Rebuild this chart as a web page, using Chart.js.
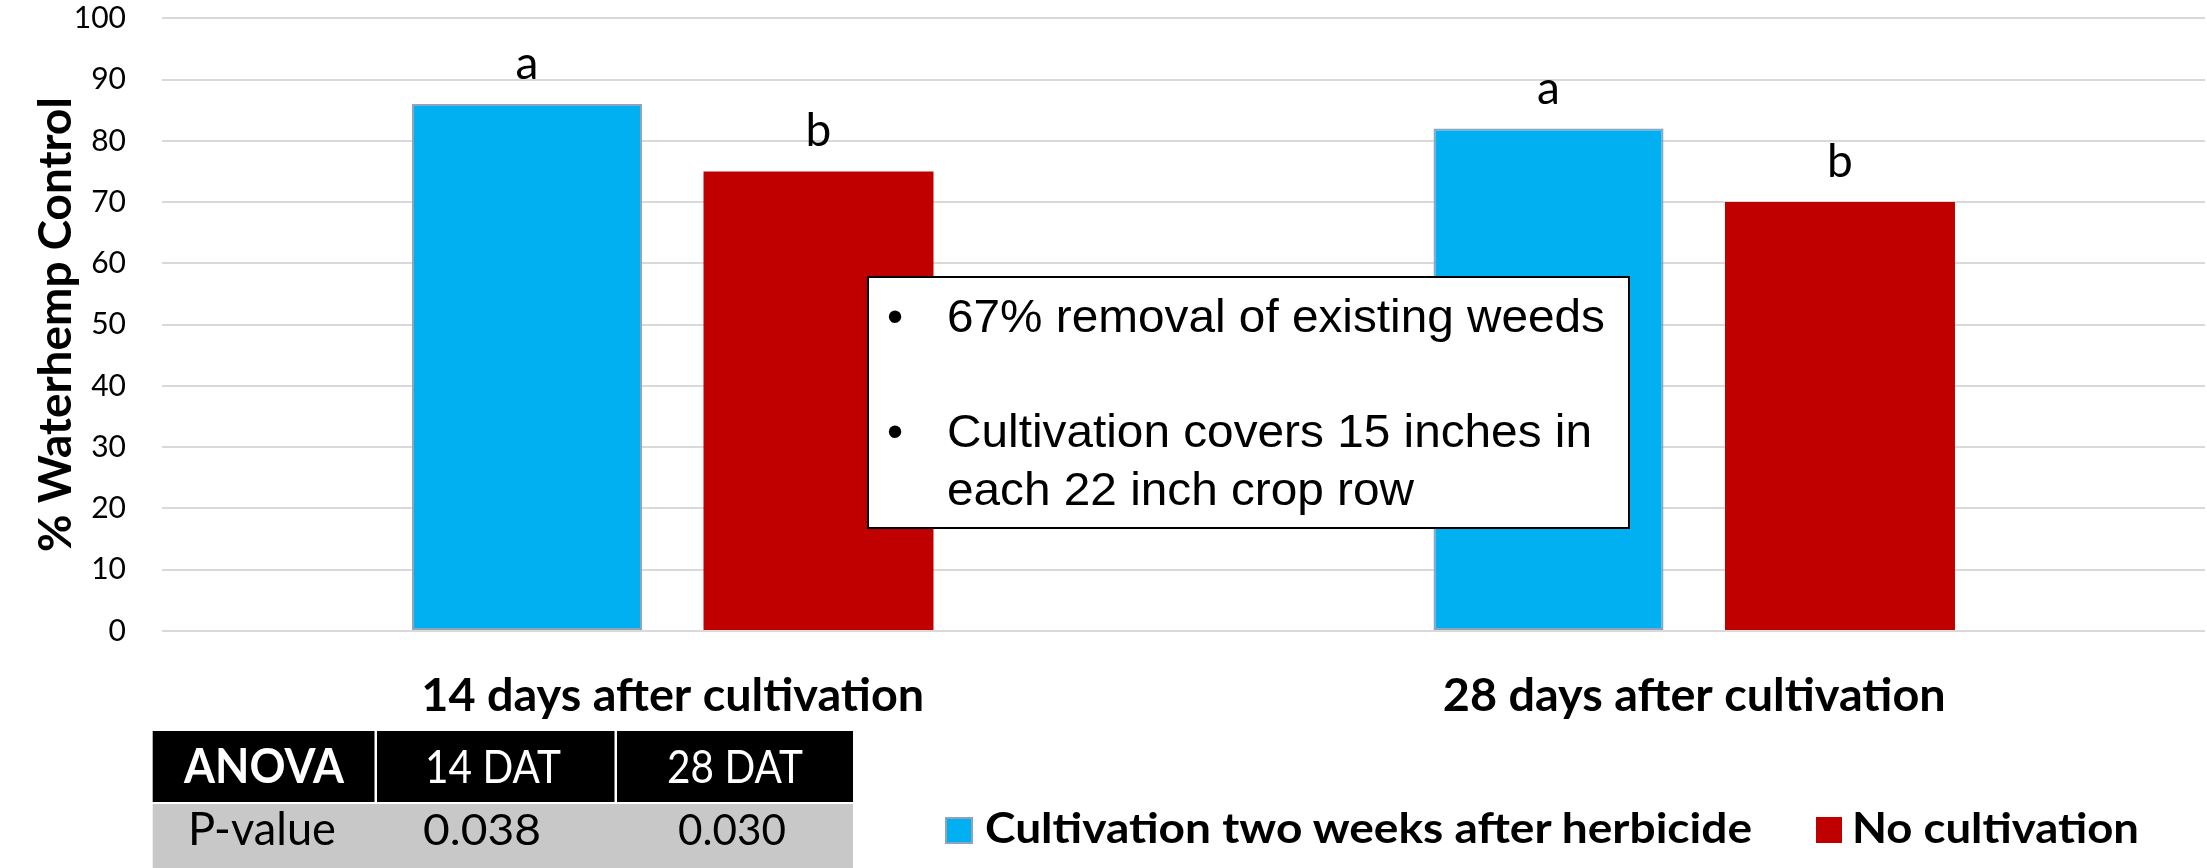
<!DOCTYPE html>
<html>
<head>
<meta charset="utf-8">
<script src="https://cdn.jsdelivr.net/npm/chart.js@4.4.1/dist/chart.umd.min.js"></script>
<style>
html,body{margin:0;padding:0;background:#fff;}
#wrap{position:relative;width:2207px;height:868px;overflow:hidden;background:#fff;}
#c{position:absolute;left:0;top:0;}
#ov{position:absolute;left:0;top:0;pointer-events:none;}
</style>
</head>
<body>
<div id="wrap">
<canvas id="c" width="2207" height="868"></canvas>
<svg id="ov" width="2207" height="868" xmlns="http://www.w3.org/2000/svg"></svg>
</div>
<script>
// ---------- data ----------
const categories = ['14 days after cultivation', '28 days after cultivation'];
const seriesNames = ['Cultivation two weeks after herbicide', 'No cultivation'];
const cultivationValues = [86, 82];
const noCultivationValues = [75, 70];
const cultivationLetters = ['a', 'a'];
const noCultivationLetters = ['b', 'b'];
const yMin = 0, yMax = 100, yStep = 10;
const yTitle = '% Waterhemp Control';
const anovaHeader = ['ANOVA', '14 DAT', '28 DAT'];
const anovaRow = ['P-value', '0.038', '0.030'];
const noteLines = ['67% removal of existing weeds', 'Cultivation covers 15 inches in', 'each 22 inch crop row'];

// ---------- helpers ----------
const mctx = document.createElement('canvas').getContext('2d');
function textW(t, font) { mctx.font = font; return mctx.measureText(t).width; }
function fitPx(t, weight, fam, w) { return 100 * w / textW(t, weight + ' 100px ' + fam); }

const FAM = 'Lato';
const titleSize = fitPx(yTitle, 'bold', FAM, 455);
const catSize = fitPx(categories[0], 'bold', FAM, 503);
const tickSize = 30;
const letterSize = 46;
const xPad = Math.max(0, 705 - 0.37 * catSize - 631 - 0.6 * catSize);

const letterSets = [cultivationLetters, noCultivationLetters];
const letterPlugin = {
  id: 'letters',
  afterDatasetsDraw(chart) {
    const c = chart.ctx;
    c.save();
    c.font = 'normal ' + letterSize + 'px ' + FAM;
    c.fillStyle = '#000';
    c.textAlign = 'center';
    c.textBaseline = 'alphabetic';
    chart.data.datasets.forEach((ds, i) => {
      chart.getDatasetMeta(i).data.forEach((el, j) => {
        c.fillText(letterSets[i][j], el.x, el.y - 25);
      });
    });
    c.restore();
  }
};

new Chart(document.getElementById('c'), {
  type: 'bar',
  data: {
    labels: categories,
    datasets: [
      { label: seriesNames[0], data: cultivationValues, backgroundColor: '#00B0F0', borderColor: '#8FA3BD', borderWidth: 2, borderSkipped: false, categoryPercentage: 0.5707, barPercentage: 0.789 },
      { label: seriesNames[1], data: noCultivationValues, backgroundColor: '#C00000', borderColor: '#C00000', borderWidth: 0, categoryPercentage: 0.5707, barPercentage: 0.789 }
    ]
  },
  options: {
    responsive: false,
    animation: false,
    devicePixelRatio: 1,
    layout: { padding: { top: 18.3, right: 2, bottom: 137, left: 0 } },
    plugins: { legend: { display: false }, tooltip: { enabled: false } },
    scales: {
      x: {
        grid: { display: false },
        border: { display: false },
        ticks: { font: { family: FAM, weight: 'bold', size: catSize, lineHeight: 1.2 }, color: '#000', padding: xPad, maxRotation: 0, autoSkip: false },
        afterFit(s) { s.height = 100; }
      },
      y: {
        min: yMin, max: yMax,
        ticks: { stepSize: yStep, font: { family: FAM, size: tickSize, lineHeight: 1.2 }, color: '#000', padding: 0 },
        grid: { color: '#d9d9d9', lineWidth: 2, drawTicks: true, tickLength: 36, tickColor: 'rgba(0,0,0,0)' },
        border: { display: false },
        title: { display: true, text: yTitle, color: '#000', font: { family: FAM, weight: 'bold', size: titleSize, lineHeight: 1.2 }, padding: { top: 56 - titleSize * 0.6, bottom: 0 } },
        afterFit(s) { s.width = 162; }
      }
    }
  },
  plugins: [letterPlugin]
});

// ---------- overlay (text box, ANOVA table, legend) ----------
const svg = document.getElementById('ov');
const NS = 'http://www.w3.org/2000/svg';
function el(tag, attrs, txt) {
  const e = document.createElementNS(NS, tag);
  for (const k in attrs) e.setAttribute(k, attrs[k]);
  if (txt !== undefined) e.textContent = txt;
  svg.appendChild(e);
  return e;
}

// text box
el('rect', { x: 868, y: 277, width: 761, height: 251, fill: '#fff', stroke: '#000', 'stroke-width': 2 });
const noteFont = { 'font-family': 'Liberation Sans, Arial, sans-serif', 'font-size': 46, fill: '#000' };
el('text', Object.assign({ x: 895, y: 332, 'text-anchor': 'middle' }, noteFont), '\u2022');
el('text', Object.assign({ x: 895, y: 447, 'text-anchor': 'middle' }, noteFont), '\u2022');
const noteYs = [332, 447, 505];
const noteW = [658, 645, 467];
noteLines.forEach((t, i) => {
  el('text', Object.assign({ x: 947, y: noteYs[i], textLength: noteW[i], lengthAdjust: 'spacingAndGlyphs' }, noteFont), t);
});

// ANOVA table
el('rect', { x: 152.7, y: 731, width: 700.3, height: 71, fill: '#000' });
el('rect', { x: 374.5, y: 731, width: 2.5, height: 71, fill: '#fff' });
el('rect', { x: 614.5, y: 731, width: 2.5, height: 71, fill: '#fff' });
el('rect', { x: 152.7, y: 804, width: 700.3, height: 64, fill: '#C8C8C8' });
const hdrCx = [264, 493, 735];
const hdrW = [160, 136, 136];
anovaHeader.forEach((t, i) => {
  el('text', { x: hdrCx[i], y: 783, 'text-anchor': 'middle', 'font-family': FAM, 'font-weight': i === 0 ? 'bold' : 'normal', 'font-size': 47, fill: '#fff', textLength: hdrW[i], lengthAdjust: 'spacingAndGlyphs' }, t);
});
const rowCx = [262, 482, 732];
const rowW = [148, 118, 108];
anovaRow.forEach((t, i) => {
  el('text', { x: rowCx[i], y: 845, 'text-anchor': 'middle', 'font-family': FAM, 'font-size': i === 0 ? 47 : 42, fill: '#000', textLength: rowW[i], lengthAdjust: 'spacingAndGlyphs' }, t);
});

// legend
el('rect', { x: 946, y: 818, width: 26, height: 25, fill: '#00B0F0', stroke: '#8FA3BD', 'stroke-width': 2 });
el('text', { x: 985, y: 843, 'font-family': FAM, 'font-weight': 'bold', 'font-size': 42, fill: '#000', textLength: 767, lengthAdjust: 'spacingAndGlyphs' }, seriesNames[0]);
el('rect', { x: 1816, y: 817, width: 26, height: 26, fill: '#C00000' });
el('text', { x: 1852, y: 843, 'font-family': FAM, 'font-weight': 'bold', 'font-size': 42, fill: '#000', textLength: 287, lengthAdjust: 'spacingAndGlyphs' }, seriesNames[1]);
</script>
</body>
</html>
